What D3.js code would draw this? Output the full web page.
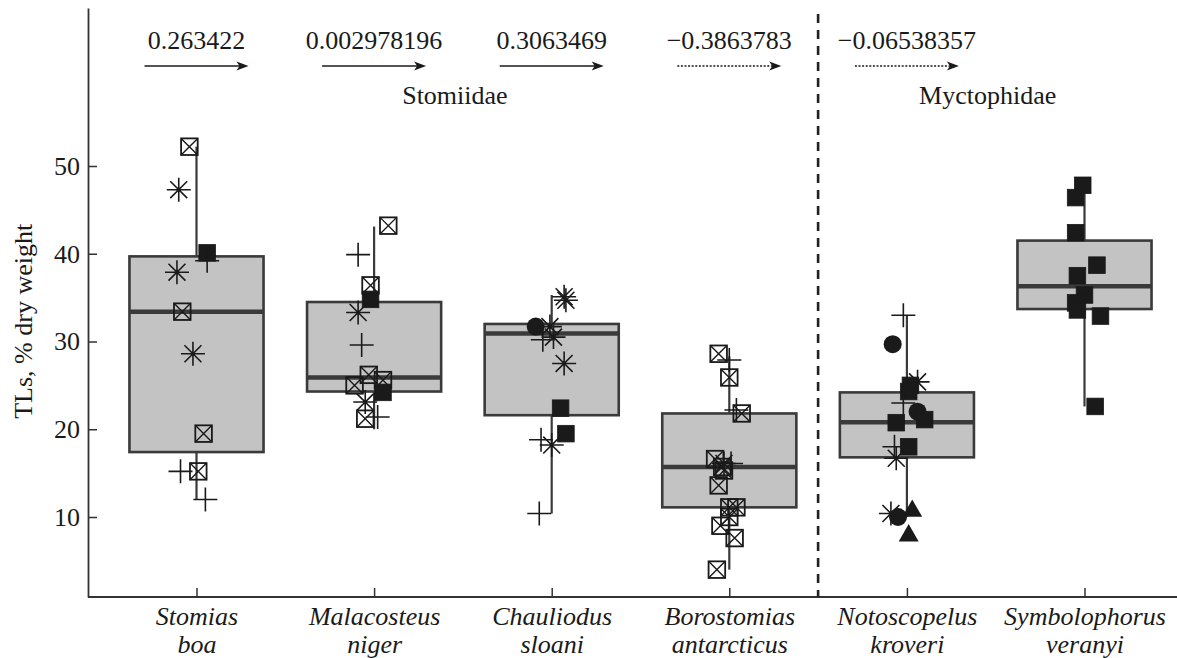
<!DOCTYPE html>
<html>
<head>
<meta charset="utf-8">
<script src="https://cdn.jsdelivr.net/npm/d3@7"></script>
<style>
  html, body { margin: 0; padding: 0; background: #fff; }
  svg { display: block; }
  text { font-family: "Liberation Serif", "DejaVu Serif", serif; fill: #1a1a1a; }
</style>
</head>
<body>
<svg id="chart" width="1177" height="658"></svg>
<script>
// ---------------- DATA ----------------
const categories = ["Stomias boa", "Malacosteus niger", "Chauliodus sloani",
                    "Borostomias antarcticus", "Notoscopelus kroveri", "Symbolophorus veranyi"];
const whiskerLow  = [12.0, 20.0, 10.4, 4.0, 10.0, 22.6];
const q1          = [17.4, 24.3, 21.6, 11.1, 16.8, 33.7];
const median      = [33.4, 25.9, 30.9, 15.7, 20.8, 36.3];
const q3          = [39.7, 34.5, 32.0, 21.8, 24.2, 41.5];
const whiskerHigh = [52.2, 43.1, 35.3, 28.3, 33.0, 47.8];

// individual observations: [value, marker, jitter (fraction of category step)]
const pointsStomias = [
  [52.2,"xsq",-0.04],[47.3,"ast",-0.10],[40.1,"sq",0.06],[39.2,"plus",0.06],
  [37.9,"ast",-0.11],[33.4,"xsq",-0.08],[28.6,"ast",-0.02],[19.5,"xsq",0.04],
  [15.2,"plus",-0.09],[15.2,"xsq",0.01],[12.0,"plus",0.05]];
const pointsMalacosteus = [
  [43.2,"xsq",0.08],[39.9,"plus",-0.09],[36.4,"xsq",-0.02],[34.8,"sq",-0.02],
  [33.3,"ast",-0.09],[29.6,"plus",-0.07],[26.2,"xsq",-0.03],[25.6,"xsq",0.05],
  [25.0,"xsq",-0.11],[24.2,"sq",0.05],[23.1,"ast",-0.05],[21.2,"xsq",-0.05],
  [21.4,"plus",0.02]];
const pointsChauliodus = [
  [35.1,"ast",0.07],[34.7,"ast",0.08],[31.7,"circ",-0.09],[31.7,"ast",-0.01],
  [30.5,"ast",0.01],[30.2,"plus",-0.05],[27.5,"ast",0.07],[22.4,"sq",0.05],
  [19.5,"sq",0.08],[18.8,"plus",-0.06],[18.2,"ast",0.0],[10.4,"plus",-0.07]];
const pointsBorostomias = [
  [28.6,"xsq",-0.06],[27.9,"plus",0.0],[25.9,"xsq",0.0],[22.2,"plus",0.04],
  [21.8,"xsq",0.07],[16.6,"xsq",-0.08],[16.1,"plus",0.01],[16.1,"ast",-0.03],
  [15.7,"xsq",-0.04],[15.3,"xsq",-0.03],[13.6,"xsq",-0.06],[11.1,"xsq",0.0],
  [11.1,"xsq",0.04],[10.0,"xsq",0.0],[9.0,"xsq",-0.05],[7.6,"xsq",0.03],
  [4.0,"xsq",-0.07]];
const pointsNotoscopelus = [
  [33.0,"plus",-0.02],[29.7,"circ",-0.08],[25.4,"ast",0.06],[25.0,"sq",0.02],
  [24.3,"sq",0.01],[23.0,"plus",-0.02],[22.0,"circ",0.06],[21.1,"sq",0.10],
  [20.75,"sq",-0.06],[18.0,"plus",-0.07],[18.0,"sq",0.01],[16.7,"ast",-0.06],
  [10.4,"ast",-0.09],[10.0,"circ",-0.05],[10.8,"tri",0.03],[8.0,"tri",0.01]];
const pointsSymbolophorus = [
  [47.8,"sq",-0.01],[46.4,"sq",-0.05],[42.4,"sq",-0.05],[38.7,"sq",0.07],
  [37.5,"sq",-0.04],[35.3,"sq",0.0],[34.4,"sq",-0.05],[33.6,"sq",-0.04],
  [32.9,"sq",0.09],[22.6,"sq",0.06]];
const points = [pointsStomias, pointsMalacosteus, pointsChauliodus,
                pointsBorostomias, pointsNotoscopelus, pointsSymbolophorus];

const yTicks = [10, 20, 30, 40, 50];
const yLabel = "TLs, % dry weight";

// correlation coefficients shown above the first five species
const corrLabels = ["0.263422", "0.002978196", "0.3063469", "\u22120.3863783", "\u22120.06538357"];
const corrValues = [0.263422, 0.002978196, 0.3063469, -0.3863783, -0.06538357];
const families = ["Stomiidae", "Myctophidae"];
const familyMembers = [[1, 2], [4, 5]]; // label placed between these categories
const familySplitAfter = 3; // dashed separator after this category index

// ---------------- LAYOUT ----------------
const svg = d3.select("#chart");
const W = 1177, H = 658;
const axisX = 88, axisY = 597, topY = 8;

const x = d3.scalePoint().domain(categories).range([196.5, 1084.5]);
const step = x.step();
const y = d3.scaleLinear()
  .domain([(604.75 - axisY) / 8.775, (604.75 - topY) / 8.775])
  .range([axisY, topY]);

const ink = "#1a1a1a";
const boxStroke = "#3a3a3a";
const boxW = step * 0.755;

// ---------------- AXES ----------------
const yAxis = d3.axisLeft(y).tickValues(yTicks).tickSize(-9).tickSizeOuter(0).tickPadding(8);
const gy = svg.append("g").attr("transform", `translate(${axisX},0)`).call(yAxis);
gy.select(".domain").attr("stroke", "#333").attr("stroke-width", 1.8);
gy.selectAll(".tick line").attr("stroke", "#333").attr("stroke-width", 1.5);
gy.selectAll(".tick text").style("font-family", "Liberation Serif").attr("font-size", 26).attr("fill", ink);

svg.append("line").attr("x1", axisX).attr("x2", W).attr("y1", axisY).attr("y2", axisY)
  .attr("stroke", "#333").attr("stroke-width", 1.8);

const xAxis = d3.axisBottom(x).tickSize(-9).tickSizeOuter(0).tickFormat("");
const gx = svg.append("g").attr("transform", `translate(0,${axisY})`).call(xAxis);
gx.select(".domain").remove();
gx.selectAll(".tick line").attr("stroke", "#333").attr("stroke-width", 1.5);
gx.selectAll(".tick").append("text")
  .attr("text-anchor", "middle")
  .attr("font-size", 26).attr("font-style", "italic")
  .style("font-family", "Liberation Serif")
  .attr("fill", ink)
  .each(function(d) {
    const parts = d.split(" ");
    const t = d3.select(this);
    t.append("tspan").attr("x", 0).attr("y", 28).text(parts[0]);
    t.append("tspan").attr("x", 0).attr("y", 56).text(parts[1]);
  });

svg.append("text")
  .attr("transform", `translate(32,${y(32.3)}) rotate(-90)`)
  .attr("text-anchor", "middle")
  .attr("font-size", 26)
  .text(yLabel);

// ---------------- SEPARATOR ----------------
const sepX = (x(categories[familySplitAfter]) + x(categories[familySplitAfter + 1])) / 2;
svg.append("line")
  .attr("x1", sepX).attr("x2", sepX).attr("y1", 14).attr("y2", axisY)
  .attr("stroke", "#222").attr("stroke-width", 2.6)
  .attr("stroke-dasharray", "9,7");

// ---------------- BOXES ----------------
const boxes = svg.append("g");
categories.forEach((c, i) => {
  const cx = x(c);
  const g = boxes.append("g");
  g.append("line").attr("x1", cx).attr("x2", cx)
    .attr("y1", y(q3[i])).attr("y2", y(whiskerHigh[i]))
    .attr("stroke", boxStroke).attr("stroke-width", 2.2);
  g.append("line").attr("x1", cx).attr("x2", cx)
    .attr("y1", y(q1[i])).attr("y2", y(whiskerLow[i]))
    .attr("stroke", boxStroke).attr("stroke-width", 2.2);
  g.append("rect")
    .attr("x", cx - boxW / 2).attr("width", boxW)
    .attr("y", y(q3[i])).attr("height", y(q1[i]) - y(q3[i]))
    .attr("fill", "#c3c3c3").attr("stroke", boxStroke).attr("stroke-width", 2.6);
  g.append("line")
    .attr("x1", cx - boxW / 2).attr("x2", cx + boxW / 2)
    .attr("y1", y(median[i])).attr("y2", y(median[i]))
    .attr("stroke", boxStroke).attr("stroke-width", 4.5);
});

// ---------------- POINTS ----------------
function drawMarker(g, shape, px, py) {
  const r = 8.3;
  if (shape === "sq") {
    g.append("rect").attr("x", px - r).attr("y", py - r).attr("width", 2 * r).attr("height", 2 * r)
      .attr("fill", ink).attr("stroke", ink).attr("stroke-width", 0.8);
  } else if (shape === "xsq") {
    g.append("rect").attr("x", px - r).attr("y", py - r).attr("width", 2 * r).attr("height", 2 * r)
      .attr("fill", "none").attr("stroke", ink).attr("stroke-width", 1.8);
    g.append("path")
      .attr("d", `M${px - r},${py - r}L${px + r},${py + r}M${px - r},${py + r}L${px + r},${py - r}`)
      .attr("stroke", ink).attr("stroke-width", 1.4).attr("fill", "none");
  } else if (shape === "plus") {
    const a = 12;
    g.append("path")
      .attr("d", `M${px - a},${py}L${px + a},${py}M${px},${py - a}L${px},${py + a}`)
      .attr("stroke", ink).attr("stroke-width", 1.6).attr("fill", "none");
  } else if (shape === "ast") {
    const a = 12, b = 12 / Math.SQRT2;
    g.append("path")
      .attr("d", `M${px - a},${py}L${px + a},${py}M${px},${py - a}L${px},${py + a}` +
                 `M${px - b},${py - b}L${px + b},${py + b}M${px - b},${py + b}L${px + b},${py - b}`)
      .attr("stroke", ink).attr("stroke-width", 1.6).attr("fill", "none");
  } else if (shape === "circ") {
    g.append("circle").attr("cx", px).attr("cy", py).attr("r", 9).attr("fill", ink);
  } else if (shape === "tri") {
    const s = 10.5;
    g.append("path")
      .attr("d", `M${px},${py - s}L${px + s * 0.95},${py + s * 0.65}L${px - s * 0.95},${py + s * 0.65}Z`)
      .attr("fill", ink);
  }
}
const pts = svg.append("g");
categories.forEach((c, i) => {
  points[i].forEach(p => {
    drawMarker(pts, p[1], x(c) + p[2] * step, y(p[0]));
  });
});

// ---------------- ANNOTATIONS ----------------
const ann = svg.append("g");
corrValues.forEach((v, i) => {
  const cx = x(categories[i]);
  ann.append("text").attr("x", cx).attr("y", 49).attr("text-anchor", "middle")
    .attr("font-size", 26).text(corrLabels[i]);
  const x1 = cx - 52, x2 = cx + 52, ay = 66;
  ann.append("line").attr("x1", x1).attr("x2", x2 - 8).attr("y1", ay).attr("y2", ay)
    .attr("stroke", ink).attr("stroke-width", v >= 0 ? 1.5 : 1.3)
    .attr("stroke-dasharray", v >= 0 ? null : "2,1.6");
  ann.append("path")
    .attr("d", `M${x2},${ay}L${x2 - 12},${ay - 4.5}L${x2 - 9},${ay}L${x2 - 12},${ay + 4.5}Z`)
    .attr("fill", ink);
});
families.forEach((f, k) => {
  const fx = (x(categories[familyMembers[k][0]]) + x(categories[familyMembers[k][1]])) / 2;
  ann.append("text").attr("x", fx + (k === 0 ? -8 : -8)).attr("y", 104)
    .attr("text-anchor", "middle").attr("font-size", 26).text(f);
});
</script>
</body>
</html>
